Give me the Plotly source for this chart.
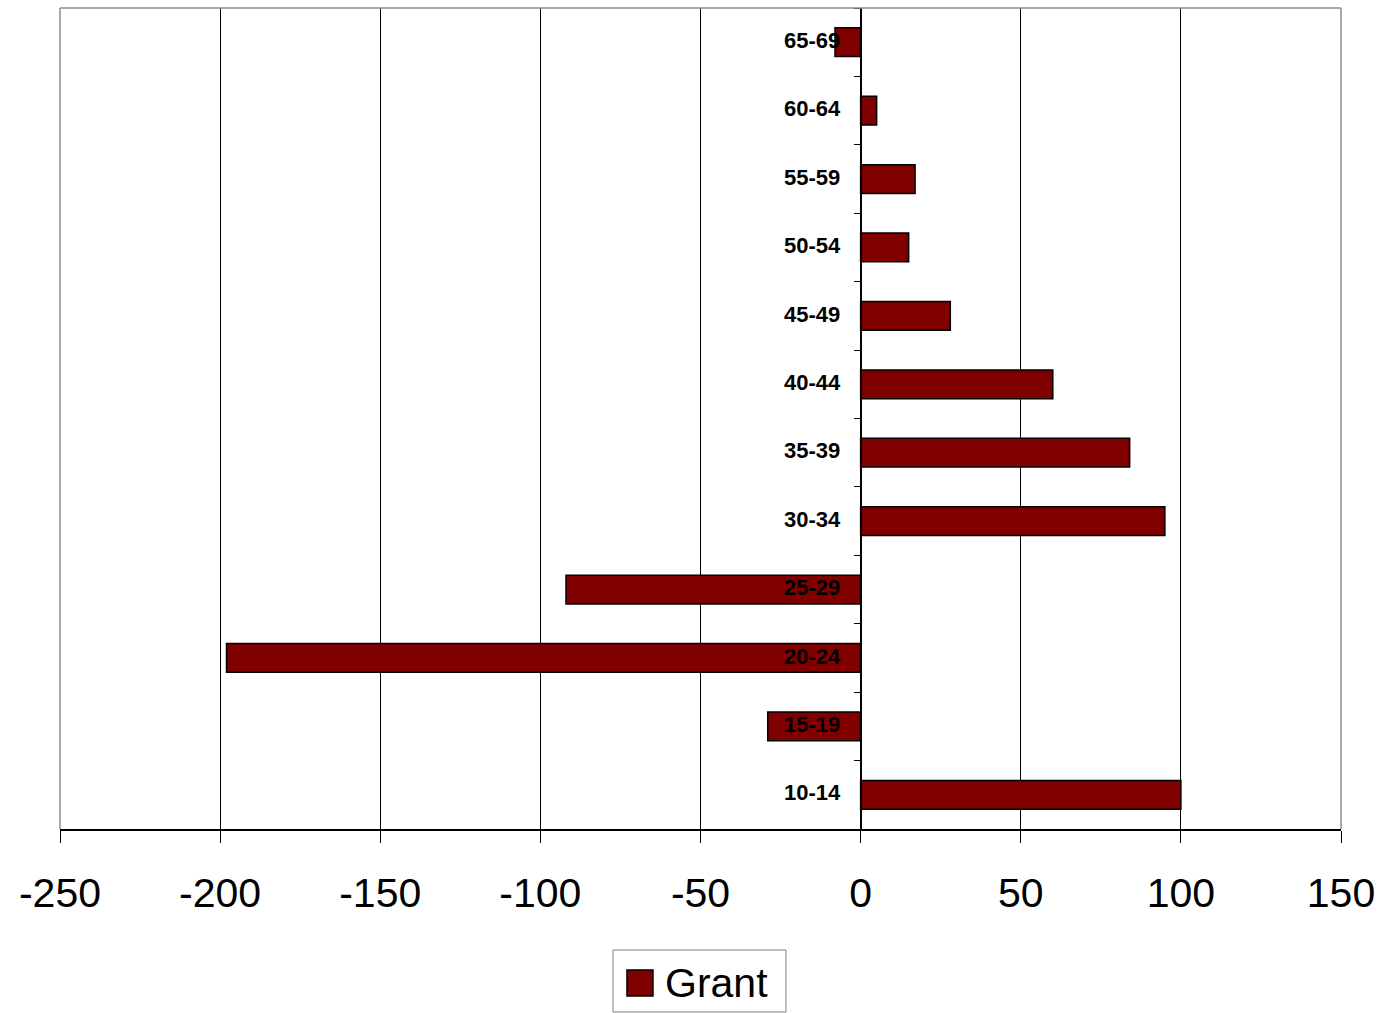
import plotly.graph_objects as go

# Age groups (bottom to top) and net change for Grant
age_groups = ["10-14", "15-19", "20-24", "25-29", "30-34", "35-39",
              "40-44", "45-49", "50-54", "55-59", "60-64", "65-69"]
grant_values = [100, -29, -198, -92, 95, 84, 60, 28, 15, 17, 5, -8]

x_tick_vals = [-250, -200, -150, -100, -50, 0, 50, 100, 150]
x_tick_text = ["-250", "-200", "-150", "-100", "-50", "0", "50", "100", "150"]

BAR_COLOR = "#800000"
FONT = "Liberation Sans, Arial, sans-serif"

fig = go.Figure()
fig.add_trace(go.Bar(
    x=grant_values,
    y=age_groups,
    orientation="h",
    name="Grant",
    width=0.42,
    marker=dict(color=BAR_COLOR, line=dict(color="black", width=1.5)),
    showlegend=False,
))

x_min, x_max = x_tick_vals[0], x_tick_vals[-1]

fig.update_layout(
    width=1395,
    height=1013,
    margin=dict(l=60, r=54, t=8, b=184),
    paper_bgcolor="white",
    plot_bgcolor="white",
    font=dict(family=FONT, color="black"),
    xaxis=dict(
        range=[x_min, x_max],
        tickvals=x_tick_vals,
        ticktext=x_tick_text,
        showgrid=True,
        gridcolor="black",
        gridwidth=1,
        zeroline=True,
        zerolinecolor="black",
        zerolinewidth=1,
        showline=True,
        linecolor="black",
        linewidth=1.5,
        ticks="outside",
        ticklen=12,
        tickcolor="black",
        tickfont=dict(size=41, family=FONT, color="black"),
        ticklabelstandoff=15,
    ),
    yaxis=dict(
        type="category",
        categoryorder="array",
        categoryarray=age_groups,
        range=[-0.5, len(age_groups) - 0.5],
        anchor="free",
        position=(0 - x_min) / (x_max - x_min),
        showgrid=False,
        zeroline=False,
        showline=True,
        linecolor="black",
        linewidth=1,
        ticks="outside",
        tickson="boundaries",
        ticklen=7,
        tickcolor="black",
        tickfont=dict(size=22, family=FONT, color="black", weight="bold"),
        ticklabelstandoff=16,
        ticklabelshift=-2,
        layer="above traces",
    ),
)

# Grey frame around the plotting area (left, top, right edges)
fig.add_shape(type="line", xref="paper", yref="paper", x0=0, x1=0, y0=0, y1=1,
              line=dict(color="#8c8c8c", width=1.5), layer="above")
fig.add_shape(type="line", xref="paper", yref="paper", x0=0, x1=1, y0=1, y1=1,
              line=dict(color="#8c8c8c", width=1.5), layer="above")
fig.add_shape(type="line", xref="paper", yref="paper", x0=1, x1=1, y0=0, y1=1,
              line=dict(color="#8c8c8c", width=1.5), layer="above")

# Legend box with a large swatch
fig.add_shape(type="rect", xref="paper", yref="paper",
              x0=0.4317, x1=0.5667, y0=-0.1474, y1=-0.2229,
              line=dict(color="#7f7f7f", width=1), fillcolor="white")
fig.add_shape(type="rect", xref="paper", yref="paper",
              x0=0.4426, x1=0.4629, y0=-0.1717, y1=-0.2034,
              line=dict(color="black", width=1.5), fillcolor=BAR_COLOR)
fig.add_annotation(text="Grant", xref="paper", yref="paper",
                   x=0.4708, y=-0.1876, xanchor="left", yanchor="middle",
                   showarrow=False, font=dict(size=41, family=FONT, color="black"))

fig.write_html("out.html")
